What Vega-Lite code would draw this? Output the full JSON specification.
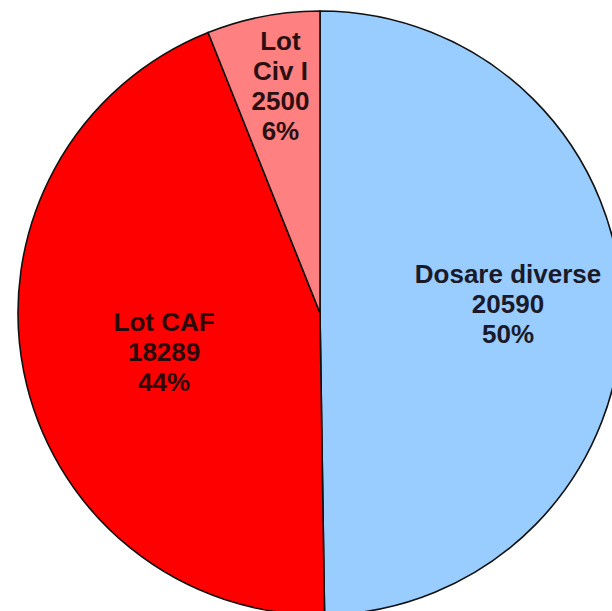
{
  "$schema": "https://vega.github.io/schema/vega-lite/v6.json",
  "width": 640,
  "height": 626,
  "autosize": "none",
  "padding": 0,
  "background": "white",
  "view": {"stroke": null},
  "data": {
    "values": [
      {"category": "Dosare diverse", "value": 20590, "rank": 1, "label": "Dosare diverse\n20590\n50%"},
      {"category": "Lot CAF", "value": 18289, "rank": 2, "label": "Lot CAF\n18289\n44%"},
      {"category": "Lot Civ I", "value": 2500, "rank": 3, "label": "Lot\nCiv I\n2500\n6%"}
    ]
  },
  "encoding": {
    "theta": {"field": "value", "type": "quantitative", "stack": true},
    "order": {"field": "rank", "type": "quantitative"}
  },
  "layer": [
    {
      "mark": {"type": "arc", "outerRadius": 302, "stroke": "#111111", "strokeWidth": 1.6},
      "encoding": {
        "color": {
          "field": "category",
          "type": "nominal",
          "scale": {"domain": ["Dosare diverse", "Lot CAF", "Lot Civ I"], "range": ["#99CCFF", "#FF0000", "#FF8080"]},
          "legend": null
        }
      }
    },
    {
      "mark": {"type": "text", "radius": 188, "dy": -37, "font": "Liberation Sans", "fontWeight": "bold", "fontSize": 26, "lineHeight": 30, "lineBreak": "\n", "color": "#1a1a2a", "align": "center", "baseline": "middle"},
      "encoding": {
        "text": {"condition": {"test": "datum.category === 'Dosare diverse'", "field": "label"}, "value": ""}
      }
    },
    {
      "mark": {"type": "text", "radius": 159, "dy": -21, "font": "Liberation Sans", "fontWeight": "bold", "fontSize": 26, "lineHeight": 30, "lineBreak": "\n", "color": "#2a0a0a", "align": "center", "baseline": "middle"},
      "encoding": {
        "text": {"condition": {"test": "datum.category === 'Lot CAF'", "field": "label"}, "value": ""}
      }
    },
    {
      "mark": {"type": "text", "radius": 231, "dx": 4, "dy": -44, "font": "Liberation Sans", "fontWeight": "bold", "fontSize": 26, "lineHeight": 30, "lineBreak": "\n", "color": "#2a1010", "align": "center", "baseline": "middle"},
      "encoding": {
        "text": {"condition": {"test": "datum.category === 'Lot Civ I'", "field": "label"}, "value": ""}
      }
    }
  ]
}
